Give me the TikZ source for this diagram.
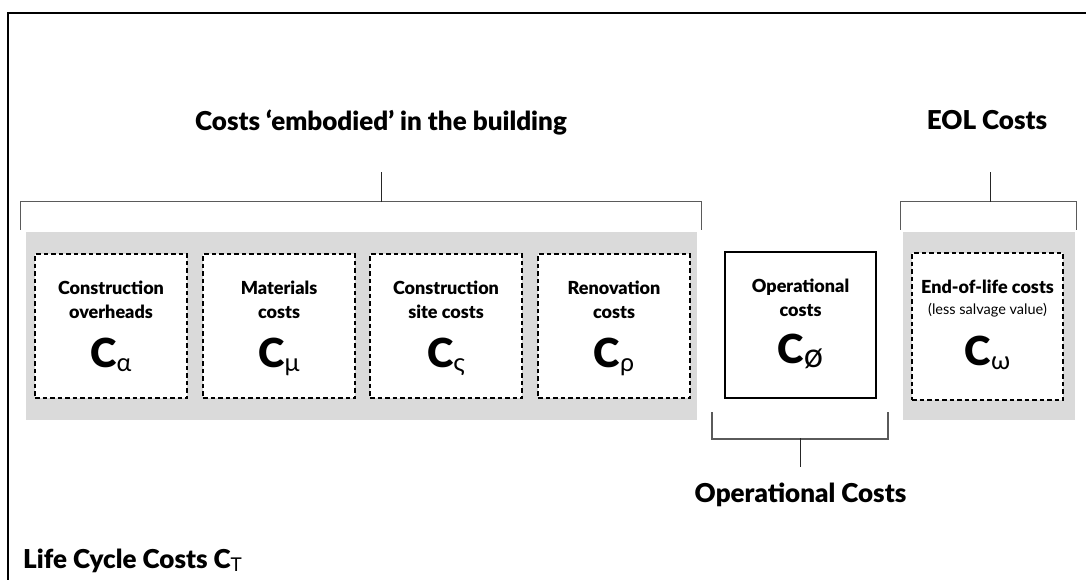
\documentclass[tikz,border=0pt]{standalone}
\usepackage{fontspec}
\setmainfont{Lato}[BoldFont={Lato Black}]
\usetikzlibrary{calc}
\definecolor{panel}{HTML}{DADADA}
\definecolor{bracketgray}{HTML}{5A5A5A}
\tikzset{
  costbox/.style={draw=black, line width=2.1pt, dash pattern=on 4.5pt off 3pt,
    fill=white, minimum width=152pt, minimum height=144pt, inner sep=0pt},
  opbox/.style={draw=black, line width=2pt, fill=white,
    minimum width=151pt, minimum height=146pt, inner sep=0pt},
  panelbox/.style={fill=panel, inner sep=0pt, minimum height=188pt},
  bracket/.style={draw=bracketgray, line width=1.3pt},
  stem/.style={draw=black!85, line width=1pt},
  heading/.style={font=\bfseries\fontsize{26}{30}\selectfont, inner sep=0pt},
  boxlabel/.style={font=\bfseries\fontsize{18}{24}\selectfont, align=center, inner sep=0pt, anchor=north},
  symbol/.style={inner sep=0pt, anchor=base},
}
\newcommand{\costsym}[2][25]{{\fontsize{40}{40}\selectfont\bfseries C}\raisebox{-4pt}{\fontsize{#1}{#1}\selectfont #2}}
\begin{document}
\begin{tikzpicture}[x=1pt,y=-1pt]
  \useasboundingbox (0,0) rectangle (1086,580);
  % outer frame (top and left edges)
  \draw[line width=2.2pt] (8,580) -- (8,13) -- (1086,13);

  % grey panels
  \node[panelbox, minimum width=671pt] (embpanel) at (361.5,326) {};
  \node[panelbox, minimum width=172pt] (eolpanel) at (989,326) {};

  % cost boxes
  \node[costbox] (alpha) at (111,326) {};
  \node[costbox] (mu)    at (279,326) {};
  \node[costbox] (sigma) at (446,326) {};
  \node[costbox] (rho)   at (614,326) {};
  \node[opbox]   (oper)  at (800.5,325) {};
  \node[costbox, minimum width=151pt, minimum height=147pt] (omega) at (987.5,326.5) {};

  % box texts
  \node[boxlabel] (alphat) at ($(alpha.north)+(0,28)$) {Construction\\overheads};
  \node[boxlabel] (mut)    at ($(mu.north)+(0,28)$) {Materials\\costs};
  \node[boxlabel] (sigmat) at ($(sigma.north)+(0,28)$) {Construction\\site costs};
  \node[boxlabel] (rhot)   at ($(rho.north)+(0,28)$) {Renovation\\costs};
  \node[boxlabel] (opert)  at ($(oper.north)+(0,28)$) {Operational\\costs};
  \node[boxlabel] (omegat) at ($(omega.north)+(0,28)$) {End-of-life costs\\[-3pt]{\mdseries\fontsize{14.5}{16}\selectfont (less salvage value)}};

  \node[symbol] (alphas) at ($(alpha.center)+(0,41)$) {\costsym{α}};
  \node[symbol] (mus)    at ($(mu.center)+(0,41)$) {\costsym{μ}};
  \node[symbol] (sigmas) at ($(sigma.center)+(0,41)$) {\costsym{ς}};
  \node[symbol] (rhos)   at ($(rho.center)+(0,41)$) {\costsym{ρ}};
  \node[symbol] (opers)  at ($(oper.center)+(0,38)$) {\costsym[34]{ø}};
  \node[symbol] (omegas) at ($(omega.center)+(0,39)$) {\costsym{ω}};

  % headings
  \node[heading, anchor=base] (embtitle) at (381,131) {Costs ‘embodied’ in the building};
  \node[heading, anchor=base] (eoltitle) at (987,130) {EOL Costs};
  \node[heading, anchor=base] (optitle)  at (800.5,502) {Operational Costs};
  \node[heading, anchor=base west] (lcc) at (23,568)
    {Life Cycle Costs C\raisebox{-3pt}{\mdseries\fontsize{19}{19}\selectfont T}};

  % bracket over the embodied costs
  \coordinate (emb1) at ($(embpanel.north west)+(-5,-2)$);
  \coordinate (emb2) at ($(embpanel.north west)+(-5,-30)$);
  \coordinate (emb3) at ($(embpanel.north east)+(4,-30)$);
  \coordinate (emb4) at ($(embpanel.north east)+(4,-2)$);
  \coordinate (embmid) at (381,202);
  \coordinate (embtop) at (381,172);
  \draw[bracket] (emb1) -- (emb2) -- (emb3) -- (emb4);
  \draw[stem] (embmid) -- (embtop);

  % bracket over the end-of-life costs
  \coordinate (eol1) at ($(eolpanel.north west)+(-2,-2)$);
  \coordinate (eol2) at ($(eolpanel.north west)+(-2,-30)$);
  \coordinate (eol3) at ($(eolpanel.north east)+(1,-30)$);
  \coordinate (eol4) at ($(eolpanel.north east)+(1,-2)$);
  \coordinate (eolmid) at (990,202);
  \coordinate (eoltop) at (990,172);
  \draw[bracket] (eol1) -- (eol2) -- (eol3) -- (eol4);
  \draw[stem] (eolmid) -- (eoltop);

  % bracket under the operational costs
  \coordinate (op1) at ($(oper.south west)+(-12,13)$);
  \coordinate (op2) at ($(oper.south west)+(-12,40)$);
  \coordinate (op3) at ($(oper.south east)+(11,40)$);
  \coordinate (op4) at ($(oper.south east)+(11,13)$);
  \coordinate (opmid) at (800,438);
  \coordinate (opbot) at (800,467);
  \draw[bracket] (op1) -- (op2) -- (op3) -- (op4);
  \draw[stem] (opmid) -- (opbot);
\end{tikzpicture}
\end{document}
